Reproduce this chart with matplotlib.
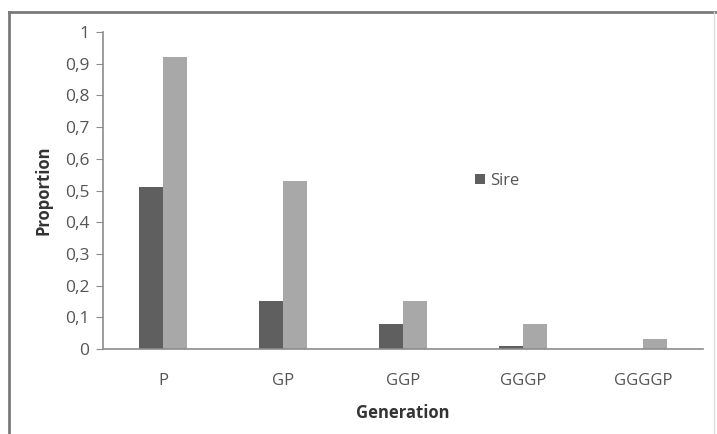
import matplotlib.pyplot as plt
from matplotlib.lines import Line2D
import numpy as np

generations = ['P', 'GP', 'GGP', 'GGGP', 'GGGGP']
sire = [0.51, 0.15, 0.08, 0.01, 0.0]
other = [0.92, 0.53, 0.15, 0.08, 0.03]
yticks = [0, 0.1, 0.2, 0.3, 0.4, 0.5, 0.6, 0.7, 0.8, 0.9, 1]

plt.rcParams['font.family'] = ['Open Sans', 'DejaVu Sans']

fig = plt.figure(figsize=(7.17, 4.34), dpi=100)
ax = fig.add_axes([0.1437, 0.196, 0.837, 0.730])

x = np.arange(len(generations))
w = 0.2
ax.bar(x - w/2, sire, w, color='#5f5f5f', label='Sire')
ax.bar(x + w/2, other, w, color='#a8a8a8')

ax.set_xlim(-0.5, len(generations) - 0.5)
ax.set_ylim(0, 1)
ax.set_yticks(yticks)
ax.set_yticklabels([('%g' % v).replace('.', ',') for v in yticks])
ax.set_xticks(x)
ax.set_xticklabels(generations)

for s in ['top', 'right']:
    ax.spines[s].set_visible(False)
for s in ['left', 'bottom']:
    ax.spines[s].set_color('#8c8c8c')
    ax.spines[s].set_linewidth(1.2)
ax.tick_params(axis='y', colors='#8c8c8c', labelcolor='#555555', labelsize=12.5, length=5, pad=5)
ax.tick_params(axis='x', length=0, labelcolor='#555555', labelsize=12, pad=17)

ax.set_ylabel('Proportion', fontsize=12, fontweight='bold', color='#333333', labelpad=9)
ax.set_xlabel('Generation', fontsize=12, fontweight='bold', color='#333333', labelpad=11)

ax.legend(loc='center left', bbox_to_anchor=(0.595, 0.53), frameon=False,
          fontsize=12, handlelength=0.6, handleheight=0.6, handletextpad=0.3,
          labelcolor='#555555')

# outer chart frame (left/top dark, right faint)
fig.add_artist(Line2D([0.013, 0.013], [0.0, 0.972], transform=fig.transFigure, color='#7a7a7a', linewidth=2))
fig.add_artist(Line2D([0.013, 1.0], [0.972, 0.972], transform=fig.transFigure, color='#7a7a7a', linewidth=2))
fig.add_artist(Line2D([0.996, 0.996], [0.0, 0.972], transform=fig.transFigure, color='#dddddd', linewidth=1))

fig.savefig('out.png', dpi=100)
